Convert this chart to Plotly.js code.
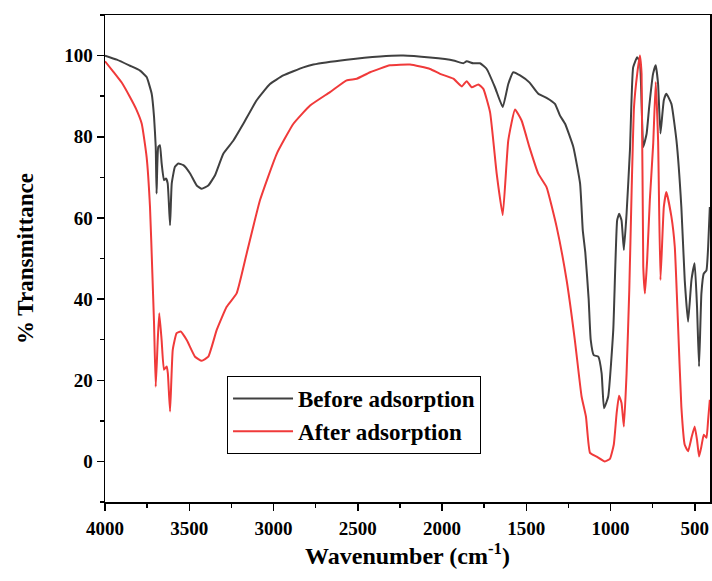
<!DOCTYPE html>
<html>
<head>
<meta charset="utf-8">
<script src="https://cdn.plot.ly/plotly-3.0.1.min.js"></script>
<style>html,body{margin:0;padding:0;background:#fff;}#chart{width:712px;height:581px;}</style>
</head>
<body>
<div id="chart"></div>
<script>
const beforeWn = [4000, 3930, 3852, 3792, 3753, 3723, 3709, 3699, 3694, 3684, 3674, 3664, 3650, 3638, 3628, 3614, 3604, 3585, 3565, 3535, 3496, 3456, 3426, 3387, 3347, 3298, 3239, 3179, 3100, 3021, 2942, 2823, 2764, 2566, 2368, 2230, 2071, 1933, 1874, 1854, 1815, 1775, 1735, 1686, 1640, 1607, 1577, 1537, 1482, 1429, 1380, 1330, 1300, 1270, 1221, 1181, 1165, 1150, 1130, 1118, 1100, 1073, 1053, 1039, 1014, 984, 961, 949, 935, 921, 905, 885, 866, 842, 826, 806, 786, 771, 748, 732, 718, 704, 684, 669, 639, 609, 580, 560, 540, 520, 501, 487, 475, 461, 447, 431, 421, 411];
const beforeT = [100, 99, 97.5, 96.3, 94.7, 90.6, 84.9, 77.5, 66, 77.5, 77.9, 73.5, 69.3, 69.7, 68.5, 58.2, 68.5, 72.6, 73.4, 73, 71, 68, 67.2, 68, 70.5, 75.8, 79, 83.2, 89, 93, 95.1, 97.1, 97.8, 99, 99.8, 100, 99.5, 98.8, 98.1, 98.6, 98.1, 98.1, 96.7, 92.2, 87.3, 93, 95.9, 95.1, 93.4, 90.6, 89.6, 88.1, 85.2, 83.2, 77.5, 68.5, 57, 51.5, 40, 30, 26.2, 25.8, 21.7, 13.1, 16, 32.4, 59.4, 61, 59.4, 52.1, 61.1, 76.7, 97.1, 99.6, 98.4, 77.5, 80.8, 87.3, 95.5, 97.6, 93, 80.8, 89, 90.6, 88.1, 79.1, 62.7, 44.7, 34.4, 44.7, 48.8, 38.1, 23.4, 41.4, 46.3, 47.1, 52.9, 62.7];

const afterWn = [4000, 3950, 3900, 3852, 3815, 3782, 3753, 3733, 3719, 3709, 3699, 3687, 3678, 3664, 3650, 3634, 3627, 3614, 3598, 3575, 3551, 3515, 3466, 3426, 3387, 3337, 3278, 3219, 3159, 3080, 2981, 2882, 2783, 2665, 2566, 2506, 2427, 2309, 2190, 2071, 2012, 1933, 1883, 1854, 1824, 1785, 1755, 1715, 1676, 1640, 1607, 1567, 1528, 1482, 1429, 1380, 1320, 1261, 1212, 1172, 1146, 1122, 1083, 1034, 1004, 981, 964, 950, 935, 921, 905, 889, 875, 861, 842, 826, 816, 806, 796, 783, 767, 747, 732, 718, 704, 684, 669, 639, 619, 600, 580, 560, 540, 520, 501, 487, 475, 461, 447, 431, 421, 411];
const afterT = [98.6, 96, 93.3, 89.8, 86.8, 83.2, 75, 62.7, 46.3, 34, 18.4, 29.9, 36.5, 29.9, 22.6, 23.4, 21.7, 12.3, 27.5, 31.6, 32, 29.9, 25.8, 24.8, 25.8, 32.4, 38.1, 41.4, 51.3, 64.4, 75.8, 83.2, 87.7, 91, 93.9, 94.3, 95.9, 97.6, 97.8, 96.7, 95.5, 94.3, 92.4, 93.7, 92.2, 92.9, 91.8, 86, 71, 60.7, 79.1, 86.7, 84, 77.5, 70.9, 67.6, 57.8, 44.7, 29.9, 16, 11, 2.1, 1.2, 0, 0.6, 4.1, 11.9, 16.2, 14.4, 8.6, 21.7, 42.2, 66.8, 87.3, 95.5, 100, 95.5, 48, 41.4, 49.6, 64.4, 78.3, 93.5, 79.1, 44.7, 62.7, 66.4, 60.3, 52.9, 34, 13.5, 4.1, 2.5, 5.8, 8.6, 5.3, 1.2, 3.7, 6.6, 5.8, 10.3, 15.2];

const seriesNames = ['Before adsorption', 'After adsorption'];
const xTickVals = [4000, 3500, 3000, 2500, 2000, 1500, 1000, 500];
const yTickVals = [0, 20, 40, 60, 80, 100];

const serif = 'Liberation Serif, Times New Roman, serif';

const traces = [
  {x: beforeWn, y: beforeT, name: seriesNames[0], type: 'scatter', mode: 'lines',
   line: {color: '#404040', width: 2, shape: 'spline', smoothing: 0.4}},
  {x: afterWn, y: afterT, name: seriesNames[1], type: 'scatter', mode: 'lines',
   line: {color: '#f03a3a', width: 2, shape: 'spline', smoothing: 0.4}}
];

const axisCommon = {
  showline: true, mirror: true, linecolor: '#000', linewidth: 1.5,
  ticks: 'outside', ticklen: 7, tickwidth: 1.5, tickcolor: '#000',
  showgrid: false, zeroline: false,
  tickfont: {family: serif, size: 19, color: '#000', weight: 'bold'}
};

const layout = {
  width: 712, height: 581,
  margin: {l: 105, r: 2, t: 15, b: 79},
  paper_bgcolor: '#fff', plot_bgcolor: '#fff',
  showlegend: true,
  legend: {
    x: 0.2017, y: 0.2587, xanchor: 'left', yanchor: 'top',
    bordercolor: '#000', borderwidth: 1, bgcolor: '#fff',
    font: {family: serif, size: 23, color: '#000', weight: 'bold'},
    tracegroupgap: 0, itemwidth: 60
  },
  xaxis: Object.assign({}, axisCommon, {
    range: [4000, 410], tickvals: xTickVals, ticklabelstandoff: 2,
    minor: {ticks: 'outside', ticklen: 4, tickwidth: 1.5, tickcolor: '#000', dtick: 250, tick0: 0},
    title: {text: 'Wavenumber (cm<sup>-1</sup>)', font: {family: serif, size: 24, color: '#000', weight: 'bold'}, standoff: 3}
  }),
  yaxis: Object.assign({}, axisCommon, {
    range: [-10, 110], tickvals: yTickVals,
    minor: {ticks: 'outside', ticklen: 4, tickwidth: 1.5, tickcolor: '#000', dtick: 10, tick0: 0},
    title: {text: '% Transmittance', font: {family: serif, size: 23, color: '#000', weight: 'bold'}, standoff: 24}
  })
};

Plotly.newPlot('chart', traces, layout, {displayModeBar: false, staticPlot: true});
</script>
</body>
</html>
